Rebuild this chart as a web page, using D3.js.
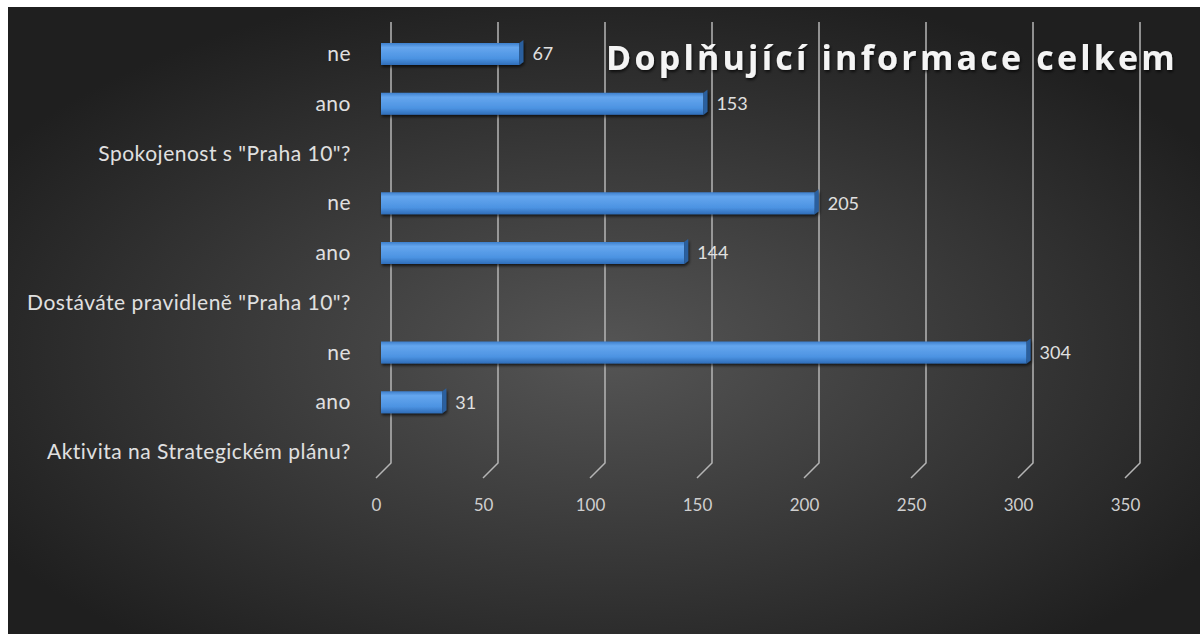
<!DOCTYPE html>
<html>
<head>
<meta charset="utf-8">
<script src="https://cdn.jsdelivr.net/npm/d3@7"></script>
<style>
  body { margin: 0; background: #fff; }
  svg { display: block; }
</style>
</head>
<body>
<div class="vis"></div>
<script>
// rows from top to bottom, question rows carry no bar
var categories = ["ne", "ano", "Spokojenost s \"Praha 10\"?", "ne", "ano",
  "Dostáváte pravidleně \"Praha 10\"?", "ne", "ano", "Aktivita na Strategickém plánu?"];
var values = [67, 153, null, 205, 144, null, 304, 31, null];
var tickValues = [0, 50, 100, 150, 200, 250, 300, 350];
var title = "Doplňující informace celkem";

var W = 1202, H = 634;
var depth = 15; // 3d wall offset
var font = "Lato, 'Open Sans', sans-serif";

var svg = d3.select(".vis").append("svg")
  .attr("width", W)
  .attr("height", H);

var defs = svg.append("defs");
var bg = defs.append("radialGradient").attr("id", "bg")
  .attr("cx", "50%").attr("cy", "55%").attr("r", "60%");
bg.append("stop").attr("offset", "0%").attr("stop-color", "#555555");
bg.append("stop").attr("offset", "100%").attr("stop-color", "#1f1f1f");

var barGrad = defs.append("linearGradient").attr("id", "bar")
  .attr("x1", 0).attr("y1", 0).attr("x2", 0).attr("y2", 1);
barGrad.append("stop").attr("offset", "0%").attr("stop-color", "#3d7fcc");
barGrad.append("stop").attr("offset", "20%").attr("stop-color", "#65a6ee");
barGrad.append("stop").attr("offset", "70%").attr("stop-color", "#4c93e2");
barGrad.append("stop").attr("offset", "100%").attr("stop-color", "#2f6db8");

var shadow = defs.append("filter").attr("id", "shadow")
  .attr("x", "-5%").attr("y", "-20%").attr("width", "110%").attr("height", "160%");
shadow.append("feDropShadow").attr("dx", 1).attr("dy", 2)
  .attr("stdDeviation", 1.5).attr("flood-color", "#000").attr("flood-opacity", 0.7);

svg.append("rect")
  .attr("x", 8).attr("y", 7)
  .attr("width", W - 10).attr("height", H - 7)
  .attr("fill", "url(#bg)");

var x = d3.scaleLinear().domain([0, 350]).range([376, 1125]);
var y = d3.scalePoint().domain(d3.range(categories.length)).range([54, 452]);
var barH = 22;

// gridlines on the back wall with the floor corner
var gridTop = 22, gridBottom = 463;
svg.append("g").selectAll("path")
  .data(tickValues)
  .enter()
  .append("path")
    .attr("d", function(d){
      return "M" + (x(d) + depth) + "," + gridTop +
        "V" + gridBottom +
        "L" + x(d) + "," + (gridBottom + depth);
    })
    .attr("fill", "none")
    .attr("stroke", "#b5b5b5")
    .attr("stroke-width", 1.5);

// x axis labels
var xAxis = d3.axisBottom(x).tickValues(tickValues).tickSize(0).tickPadding(0);
var gx = svg.append("g")
  .attr("transform", "translate(0,499)")
  .call(xAxis);
gx.select(".domain").remove();
gx.selectAll("text")
  .attr("fill", "#cfcfcf")
  .attr("font-family", font)
  .attr("font-size", 17);

// category labels
var yAxis = d3.axisLeft(y).tickFormat(function(i){ return categories[i]; })
  .tickSize(0).tickPadding(0);
var gy = svg.append("g")
  .attr("transform", "translate(351,0)")
  .call(yAxis);
gy.select(".domain").remove();
gy.selectAll("text")
  .attr("fill", "#e0e0e0")
  .attr("font-family", font)
  .attr("font-size", 21)
  .attr("letter-spacing", 0.5);

// bars
var barData = values.map(function(v, i){ return {v: v, i: i}; })
  .filter(function(d){ return d.v !== null; });
var off = 5;
var bars = svg.append("g").selectAll("g")
  .data(barData)
  .enter()
  .append("g")
    .attr("filter", "url(#shadow)");

bars.append("rect")
  .attr("x", x(0) + off)
  .attr("y", function(d){ return y(d.i) - barH / 2; })
  .attr("width", function(d){ return x(d.v) - x(0) - 5; })
  .attr("height", barH)
  .attr("fill", "url(#bar)");

bars.append("path")
  .attr("d", function(d){
    var x1 = x(d.v), y0 = y(d.i) - barH / 2;
    return "M" + x1 + "," + y0 + "L" + (x1 + 4) + "," + (y0 - 3) +
      "V" + (y0 + barH - 3) + "L" + x1 + "," + (y0 + barH) + "Z";
  })
  .attr("fill", "#2a5f9e");

svg.append("g").selectAll("text")
  .data(barData)
  .enter()
  .append("text")
    .attr("x", function(d){ return x(d.v) + 13; })
    .attr("y", function(d){ return y(d.i); })
    .attr("dy", "0.35em")
    .attr("fill", "#e0e0e0")
    .attr("font-family", font)
    .attr("font-size", 18)
    .text(function(d){ return d.v; });

// title
svg.append("text")
  .attr("x", 892)
  .attr("y", 70)
  .attr("text-anchor", "middle")
  .attr("fill", "#f4f4f4")
  .attr("font-family", "'Open Sans', Lato, sans-serif")
  .attr("font-weight", "bold")
  .attr("font-size", 34)
  .attr("letter-spacing", 3.2)
  .attr("filter", "url(#shadow)")
  .text(title);
</script>
</body>
</html>
